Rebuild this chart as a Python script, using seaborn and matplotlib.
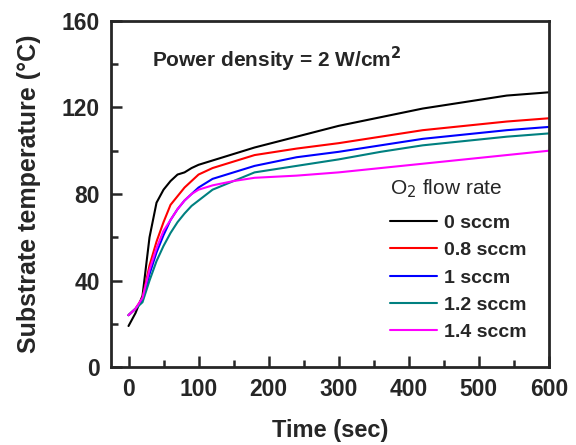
import matplotlib
matplotlib.use("Agg")
import matplotlib.pyplot as plt
import seaborn as sns
import pandas as pd
from matplotlib.ticker import MultipleLocator

time = [0, 10, 20, 30, 40, 50, 60, 70, 80, 90, 100, 120, 150, 180, 240, 300, 360, 420, 480, 540, 600]
t_0 = [19, 25, 33, 60, 76, 82, 86, 89, 90, 92, 93.5, 95.5, 98.5, 101.5, 106.5, 111.5, 115.5, 119.5, 122.5, 125.5, 127]
t_08 = [24, 27, 32, 47, 58, 67, 75, 79, 83, 86, 89, 92, 95, 98, 101, 103.5, 106.5, 109.5, 111.5, 113.5, 115]
t_1 = [24, 27, 31, 43, 53, 61, 68, 73, 77, 80, 83, 87, 90, 93, 97, 99.5, 102.5, 105.5, 107.5, 109.5, 111]
t_12 = [24, 27, 30, 40, 49, 56, 62, 67, 71, 74.5, 77, 82, 86, 90, 93, 96, 99.5, 102.5, 104.5, 106.5, 108]
t_14 = [24, 27, 32, 45, 55, 63, 68, 73, 77, 80, 82, 84, 86, 87.5, 88.5, 90, 92, 94, 96, 98, 100]
labels = ["0 sccm", "0.8 sccm", "1 sccm", "1.2 sccm", "1.4 sccm"]
colors = ["black", "#ff0000", "#0000ff", "#008080", "#ff00ff"]

rows = []
for lab, vals in zip(labels, [t_0, t_08, t_1, t_12, t_14]):
    for t, v in zip(time, vals):
        rows.append({"time": t, "temp": v, "flow": lab})
df = pd.DataFrame(rows)

sns.set_style("ticks")
plt.rcParams["font.family"] = ["Liberation Sans", "DejaVu Sans"]

fig = plt.figure(figsize=(5.76, 4.45), dpi=100)
ax = fig.add_axes([0.1927, 0.175, 0.760, 0.778])
sns.lineplot(data=df, x="time", y="temp", hue="flow", palette=colors,
             hue_order=labels, ax=ax, linewidth=1.5, legend=True)

ax.set_xlim(-25, 600)
ax.set_ylim(0, 160)
ax.xaxis.set_major_locator(MultipleLocator(100))
ax.xaxis.set_minor_locator(MultipleLocator(50))
ax.yaxis.set_major_locator(MultipleLocator(40))
ax.yaxis.set_minor_locator(MultipleLocator(20))
ax.tick_params(which="both", direction="in", width=1.8, top=False, right=False)
ax.tick_params(which="major", length=8, labelsize=16.5, pad=8)
ax.tick_params(which="minor", length=5)
for lbl in ax.get_xticklabels() + ax.get_yticklabels():
    lbl.set_fontweight("bold")
for s in ax.spines.values():
    s.set_linewidth(2)
    s.set_visible(True)

ax.set_xlabel("Time (sec)", fontsize=17, fontweight="bold", labelpad=13)
ax.set_ylabel("Substrate temperature (\u00b0C)", fontsize=18, fontweight="bold", labelpad=15)

ax.text(0.094, 0.867, "Power density = 2 W/cm$^\\mathbf{2}$", transform=ax.transAxes,
        fontsize=15, fontweight="bold")

leg = ax.legend(title="O$_2$ flow rate", frameon=False, loc="upper left",
                bbox_to_anchor=(0.615, 0.575), borderpad=0, fontsize=14, title_fontsize=15,
                handlelength=2.4, handletextpad=0.4, labelspacing=0.5)
for txt in leg.get_texts():
    txt.set_fontweight("bold")
leg._legend_box.align = "left"
leg._legend_box.sep = 10

fig.savefig("out.png", dpi=100)
